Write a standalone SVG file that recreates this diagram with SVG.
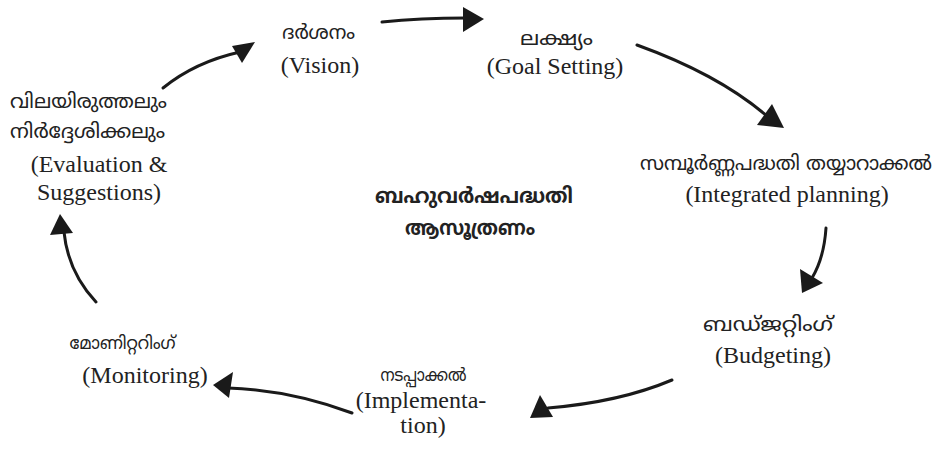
<svg xmlns="http://www.w3.org/2000/svg" width="942" height="459" viewBox="0 0 942 459">
<style>
.ml{font-family:"Noto Sans Malayalam","Noto Sans","DejaVu Sans",sans-serif;font-size:20px;fill:#222;text-anchor:middle}
.ms{font-family:"Noto Sans Malayalam","Noto Sans","DejaVu Sans",sans-serif;font-size:18px;fill:#222;text-anchor:middle}
.mb{font-family:"Noto Sans Malayalam","Noto Sans","DejaVu Sans",sans-serif;font-size:21px;font-weight:bold;fill:#222;text-anchor:middle}
.en{font-family:"Liberation Serif","Times New Roman",serif;font-size:24px;fill:#222;text-anchor:middle}
.ln{fill:none;stroke:#1a1a1a;stroke-width:3;stroke-linecap:round}
.hd{fill:#1a1a1a}
</style>
<rect width="942" height="459" fill="#fff"/>
<g id="connectors">
<path class="ln" d="M382,22 Q420,18 466,18"/>
<polygon class="hd" points="463,7 484,19 463,32"/>
<path class="ln" d="M637,45 Q720,75 768,117"/>
<polygon class="hd" points="772,104 784,128 757,125"/>
<path class="ln" d="M826,228 Q824,258 812,278"/>
<polygon class="hd" points="800,269 823,283 802,293"/>
<path class="ln" d="M672,380 Q620,402 548,408"/>
<polygon class="hd" points="540,395 530,418 553,417"/>
<path class="ln" d="M352,413 Q290,390 228,388"/>
<polygon class="hd" points="213,385 233,372 229,398"/>
<path class="ln" d="M96,302 Q68,272 64,232"/>
<polygon class="hd" points="60,214 73,233 50,235"/>
<path class="ln" d="M163,88 Q195,62 240,52"/>
<polygon class="hd" points="255,42 242,63 232,46"/>
</g>
<g id="vision">
<text class="ml" x="318.5" y="39" textLength="73" lengthAdjust="spacingAndGlyphs">ദർശനം</text>
<text class="en" x="320" y="73">(Vision)</text>
</g>
<g id="goal">
<text class="ml" x="556.5" y="45" textLength="73" lengthAdjust="spacingAndGlyphs">ലക്ഷ്യം</text>
<text class="en" x="555" y="74">(Goal Setting)</text>
</g>
<g id="integrated">
<text class="ml" x="786" y="170" textLength="292" lengthAdjust="spacingAndGlyphs">സമ്പൂർണ്ണപദ്ധതി  തയ്യാറാക്കൽ</text>
<text class="en" x="787" y="202">(Integrated planning)</text>
</g>
<g id="budgeting">
<text class="ml" x="768" y="331" textLength="130" lengthAdjust="spacingAndGlyphs">ബഡ്ജറ്റിംഗ്</text>
<text class="en" x="773" y="363">(Budgeting)</text>
</g>
<g id="implementation">
<text class="ms" x="423.5" y="381" textLength="86" lengthAdjust="spacingAndGlyphs">നടപ്പാക്കൽ</text>
<text class="en" x="421" y="408">(Implementa-</text>
<text class="en" x="423" y="433">tion)</text>
</g>
<g id="monitoring">
<text class="ms" x="122.5" y="349" textLength="106" lengthAdjust="spacingAndGlyphs">മോണിറ്ററിംഗ്</text>
<text class="en" x="145" y="383">(Monitoring)</text>
</g>
<g id="evaluation">
<text class="ml" x="88.5" y="108" textLength="157" lengthAdjust="spacingAndGlyphs">വിലയിരുത്തലും</text>
<text class="ml" x="87.5" y="138" textLength="155" lengthAdjust="spacingAndGlyphs">നിർദ്ദേശിക്കലും</text>
<text class="en" x="99" y="172">(Evaluation &amp;</text>
<text class="en" x="99" y="200">Suggestions)</text>
</g>
<g id="center">
<text class="mb" x="474" y="203" textLength="198" lengthAdjust="spacingAndGlyphs">ബഹുവർഷപദ്ധതി</text>
<text class="mb" x="470" y="235" textLength="130" lengthAdjust="spacingAndGlyphs">ആസൂത്രണം</text>
</g>
</svg>
